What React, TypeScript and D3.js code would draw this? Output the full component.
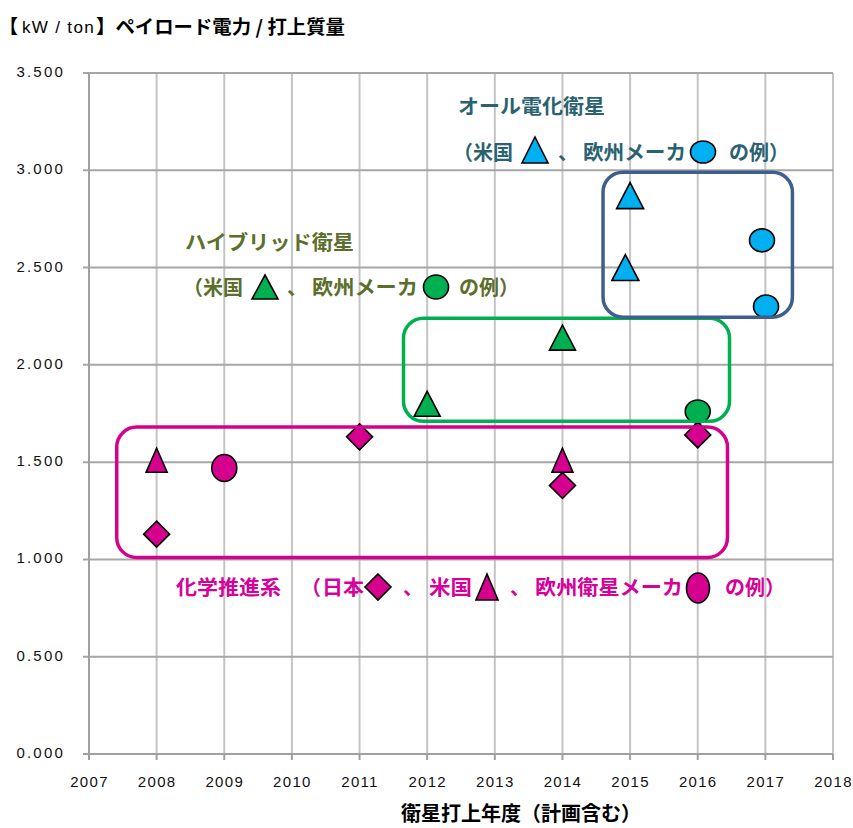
import React from "react";
import * as d3 from "d3";

// ---- Data ----
const yTicks = [0, 0.5, 1, 1.5, 2, 2.5, 3, 3.5];
const xTicks = [2007, 2008, 2009, 2010, 2011, 2012, 2013, 2014, 2015, 2016, 2017, 2018];

const chemJapanYears = [2008, 2011, 2014, 2016];
const chemJapanValues = [1.13, 1.63, 1.38, 1.64];
const chemUSYears = [2008, 2014];
const chemUSValues = [1.51, 1.51];
const chemEuroYears = [2009];
const chemEuroValues = [1.47];

const hybridUSYears = [2012, 2014];
const hybridUSValues = [1.8, 2.14];
const hybridEuroYears = [2016];
const hybridEuroValues = [1.76];

const electricUSYears = [2015, 2014.93];
const electricUSValues = [2.87, 2.5];
const electricEuroYears = [2016.95, 2017.01];
const electricEuroValues = [2.64, 2.3];

// group boxes in data space: [x0, x1, yTop, yBottom]
const chemBox = [2007.41, 2016.44, 1.68, 1.01];
const hybridBox = [2011.65, 2016.47, 2.24, 1.71];
const electricBox = [2014.6, 2017.4, 2.99, 2.245];

const MAGENTA = "#D6008F";
const GREEN = "#00B050";
const BLUE = "#00B0F0";
const BOXBLUE = "#3E5F8C";
const TEAL_TEXT = "#2A6272";
const OLIVE_TEXT = "#5C6E2C";
const MAG_TEXT = "#D6009A";

const JP = "'Noto Sans CJK JP', 'Noto Sans', sans-serif";
const NUM = "'Liberation Sans', Arial, sans-serif";

const x = d3.scaleLinear().domain([2007, 2018]).range([89, 833]);
const y = d3.scaleLinear().domain([0, 3.5]).range([754, 73]);

function tri(cx: number, cy: number, w: number, h: number) {
  return `M${cx},${cy - h / 2}L${cx + w / 2},${cy + h / 2}L${cx - w / 2},${cy + h / 2}Z`;
}
function diamond(cx: number, cy: number, w: number, h: number) {
  return `M${cx},${cy - h / 2}L${cx + w / 2},${cy}L${cx},${cy + h / 2}L${cx - w / 2},${cy}Z`;
}

const SW = 1.6;

function Tri({ cx, cy, w, h, fill }: any) {
  return <path d={tri(cx, cy, w, h)} fill={fill} stroke="#000" strokeWidth={SW} strokeLinejoin="miter" />;
}
function Dia({ cx, cy, w, h, fill }: any) {
  return <path d={diamond(cx, cy, w, h)} fill={fill} stroke="#000" strokeWidth={SW} />;
}
function Ell({ cx, cy, rx, ry, fill }: any) {
  return <ellipse cx={cx} cy={cy} rx={rx} ry={ry} fill={fill} stroke="#000" strokeWidth={SW} />;
}

function Box({ b, color }: any) {
  const x0 = x(b[0]), x1 = x(b[1]), y0 = y(b[2]), y1 = y(b[3]);
  return <rect x={x0} y={y0} width={x1 - x0} height={y1 - y0} rx={20} ry={20} fill="none" stroke={color} strokeWidth={3.5} />;
}

function JT({ x: tx, y: ty, size, color, children, len }: any) {
  return (
    <text
      x={tx}
      y={ty}
      fontFamily={JP}
      fontWeight={700}
      fontSize={size}
      fill={color}
      {...(len ? { textLength: len, lengthAdjust: "spacingAndGlyphs" } : {})}
    >
      {children}
    </text>
  );
}

export default function App() {
  return (
    <svg width={853} height={828} style={{ position: "absolute", left: 0, top: 0, background: "#fff" }}>
      {/* vertical grid */}
      {xTicks.slice(1).map((t) => (
        <line key={"vx" + t} x1={x(t)} x2={x(t)} y1={y(3.5)} y2={y(0)} stroke="#C4C4C4" strokeWidth={2} />
      ))}
      {/* horizontal grid */}
      {yTicks.slice(1).map((t) => (
        <line key={"hy" + t} x1={x(2007) - 6} x2={x(2018)} y1={y(t)} y2={y(t)} stroke="#A6A6A6" strokeWidth={2} />
      ))}
      {/* axes */}
      <line x1={x(2007)} x2={x(2007)} y1={y(3.5)} y2={y(0)} stroke="#A0A0A0" strokeWidth={2} />
      <line x1={x(2007) - 6} x2={x(2018)} y1={y(0)} y2={y(0)} stroke="#A0A0A0" strokeWidth={2} />
      {xTicks.map((t) => (
        <line key={"xt" + t} x1={x(t)} x2={x(t)} y1={y(0)} y2={y(0) + 6} stroke="#A0A0A0" strokeWidth={2} />
      ))}
      {/* tick labels */}
      {yTicks.map((t) => (
        <text key={"yl" + t} x={x(2007) - 24} y={y(t) + 4} textAnchor="end" fontFamily={NUM} fontSize={15} letterSpacing={2.2} fill="#111">
          {d3.format(".3f")(t)}
        </text>
      ))}
      {xTicks.map((t) => (
        <text key={"xl" + t} x={x(t) + 0.5} y={y(0) + 33} textAnchor="middle" fontFamily={NUM} fontSize={15} letterSpacing={1.3} fill="#111">
          {t}
        </text>
      ))}

      {/* data markers */}
      {chemJapanYears.map((yr, i) => (
        <Dia key={"cj" + i} cx={x(yr)} cy={y(chemJapanValues[i])} w={26} h={26} fill={MAGENTA} />
      ))}
      {chemUSYears.map((yr, i) => (
        <Tri key={"cu" + i} cx={x(yr)} cy={y(chemUSValues[i])} w={21} h={24} fill={MAGENTA} />
      ))}
      {chemEuroYears.map((yr, i) => (
        <Ell key={"ce" + i} cx={x(yr)} cy={y(chemEuroValues[i])} rx={12.5} ry={13.5} fill={MAGENTA} />
      ))}
      {hybridUSYears.map((yr, i) => (
        <Tri key={"hu" + i} cx={x(yr)} cy={y(hybridUSValues[i])} w={26} h={25} fill={GREEN} />
      ))}
      {hybridEuroYears.map((yr, i) => (
        <Ell key={"he" + i} cx={x(yr)} cy={y(hybridEuroValues[i])} rx={12.5} ry={11.5} fill={GREEN} />
      ))}
      {electricUSYears.map((yr, i) => (
        <Tri key={"eu" + i} cx={x(yr)} cy={y(electricUSValues[i])} w={27} h={26} fill={BLUE} />
      ))}
      {electricEuroYears.map((yr, i) => (
        <Ell key={"ee" + i} cx={x(yr)} cy={y(electricEuroValues[i])} rx={12.5} ry={11.5} fill={BLUE} />
      ))}

      {/* group boxes */}
      <Box b={chemBox} color={MAGENTA} />
      <Box b={hybridBox} color={GREEN} />
      <Box b={electricBox} color={BOXBLUE} />

      {/* title */}
      <JT x={-1} y={34} size={19} color="#000">【</JT>
      <text x={22} y={33} fontFamily={NUM} fontSize={16} letterSpacing={1.2} fill="#000" textLength={73} lengthAdjust="spacingAndGlyphs">kW / ton</text>
      <JT x={96} y={34} size={19} color="#000" len={249}>】ペイロード電力 / 打上質量</JT>

      {/* x-axis title */}
      <JT x={401} y={821} size={20} color="#000" len={240}>衛星打上年度（計画含む）</JT>

      {/* all-electric annotation */}
      <JT x={458} y={114} size={20} color={TEAL_TEXT} len={147}>オール電化衛星</JT>
      <JT x={453} y={160} size={20} color={TEAL_TEXT}>（米国</JT>
      <JT x={558} y={160} size={20} color={TEAL_TEXT}>、</JT>
      <JT x={583} y={160} size={20} color={TEAL_TEXT} len={103}>欧州メーカ</JT>
      <JT x={729} y={160} size={20} color={TEAL_TEXT}>の例）</JT>
      <Tri cx={535} cy={150} w={26} h={26} fill={BLUE} />
      <Ell cx={703} cy={152} rx={12.5} ry={11} fill={BLUE} />

      {/* hybrid annotation */}
      <JT x={185} y={250} size={20} color={OLIVE_TEXT} len={169}>ハイブリッド衛星</JT>
      <JT x={183} y={295} size={20} color={OLIVE_TEXT}>（米国</JT>
      <JT x={287} y={295} size={20} color={OLIVE_TEXT}>、</JT>
      <JT x={312} y={295} size={20} color={OLIVE_TEXT} len={106}>欧州メーカ</JT>
      <JT x={459} y={295} size={20} color={OLIVE_TEXT}>の例）</JT>
      <Tri cx={265} cy={287} w={26} h={24} fill={GREEN} />
      <Ell cx={436} cy={287} rx={12.5} ry={12} fill={GREEN} />

      {/* chemical annotation */}
      <JT x={176} y={595} size={20} color={MAG_TEXT} len={105}>化学推進系</JT>
      <JT x={301} y={595} size={20} color={MAG_TEXT}>（</JT>
      <JT x={322} y={595} size={20} color={MAG_TEXT} len={42}>日本</JT>
      <JT x={403} y={595} size={20} color={MAG_TEXT}>、</JT>
      <JT x={429} y={595} size={20} color={MAG_TEXT} len={43}>米国</JT>
      <JT x={510} y={595} size={20} color={MAG_TEXT}>、</JT>
      <JT x={535} y={595} size={20} color={MAG_TEXT} len={148}>欧州衛星メーカ</JT>
      <JT x={725} y={595} size={20} color={MAG_TEXT}>の例）</JT>
      <Dia cx={378} cy={587} w={26} h={26} fill={MAGENTA} />
      <Tri cx={487} cy={587} w={22} h={26} fill={MAGENTA} />
      <Ell cx={698} cy={588} rx={11.5} ry={15} fill={MAGENTA} />
    </svg>
  );
}
